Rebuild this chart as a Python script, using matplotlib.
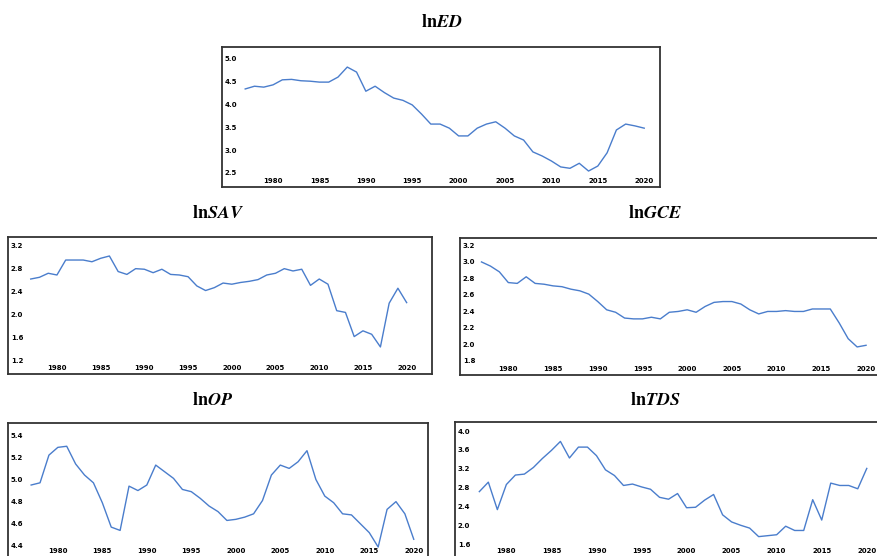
import numpy as np
import matplotlib
matplotlib.use('Agg')
import matplotlib.pyplot as plt

plt.rcParams['mathtext.fontset'] = 'stix'

# Data (1977-2020)
years = list(range(1977, 2021))

ln_ed = [4.34, 4.40, 4.38, 4.43, 4.54, 4.55, 4.52, 4.51, 4.49, 4.49,
         4.60, 4.82, 4.71, 4.29, 4.40, 4.26, 4.14, 4.09, 3.99, 3.79,
         3.57, 3.57, 3.48, 3.31, 3.31, 3.48, 3.57, 3.62, 3.48, 3.31,
         3.22, 2.96, 2.87, 2.76, 2.63, 2.60, 2.71, 2.54, 2.65, 2.94,
         3.44, 3.57, 3.53, 3.48]

ln_sav = [2.61, 2.64, 2.71, 2.68, 2.94, 2.94, 2.94, 2.91, 2.97, 3.01,
          2.74, 2.69, 2.79, 2.78, 2.72, 2.78, 2.69, 2.68, 2.65, 2.49,
          2.41, 2.46, 2.54, 2.52, 2.55, 2.57, 2.60, 2.68, 2.71, 2.79,
          2.75, 2.78, 2.50, 2.61, 2.52, 2.06, 2.03, 1.61, 1.71, 1.65,
          1.43, 2.19, 2.45, 2.20]

ln_gce = [3.00, 2.95, 2.88, 2.75, 2.74, 2.82, 2.74, 2.73, 2.71, 2.70,
          2.67, 2.65, 2.61, 2.52, 2.42, 2.39, 2.32, 2.31, 2.31, 2.33,
          2.31, 2.39, 2.40, 2.42, 2.39, 2.46, 2.51, 2.52, 2.52, 2.49,
          2.42, 2.37, 2.40, 2.40, 2.41, 2.40, 2.40, 2.43, 2.43, 2.43,
          2.26, 2.07, 1.97, 1.99]

ln_op = [4.95, 4.97, 5.22, 5.29, 5.30, 5.14, 5.04, 4.97, 4.79, 4.57,
         4.54, 4.94, 4.90, 4.95, 5.13, 5.07, 5.01, 4.91, 4.89, 4.83,
         4.76, 4.71, 4.63, 4.64, 4.66, 4.69, 4.81, 5.04, 5.13, 5.10,
         5.16, 5.26, 5.00, 4.85, 4.79, 4.69, 4.68, 4.60, 4.52, 4.39,
         4.73, 4.80, 4.69, 4.46]

ln_tds = [2.72, 2.92, 2.34, 2.87, 3.07, 3.09, 3.23, 3.42, 3.59, 3.78,
          3.43, 3.66, 3.66, 3.48, 3.18, 3.06, 2.85, 2.88, 2.82, 2.77,
          2.60, 2.56, 2.68, 2.38, 2.39, 2.54, 2.66, 2.23, 2.08, 2.01,
          1.95, 1.77, 1.79, 1.81, 1.99, 1.90, 1.90, 2.55, 2.12, 2.90,
          2.85, 2.85, 2.78, 3.21]

x_ticks = [1980, 1985, 1990, 1995, 2000, 2005, 2010, 2015, 2020]
ed_ticks = [2.5, 3.0, 3.5, 4.0, 4.5, 5.0]
sav_ticks = [1.2, 1.6, 2.0, 2.4, 2.8, 3.2]
gce_ticks = [1.8, 2.0, 2.2, 2.4, 2.6, 2.8, 3.0, 3.2]
op_ticks = [4.4, 4.6, 4.8, 5.0, 5.2, 5.4]
tds_ticks = [1.6, 2.0, 2.4, 2.8, 3.2, 3.6, 4.0]

W, H = 877, 556
fig = plt.figure(figsize=(W / 100, H / 100), dpi=100)


def panel(px, title, values, yticks, ylim, xlim, tx, ty):
    left, top, right, bottom = px
    ax = fig.add_axes([left / W, 1 - bottom / H, (right - left) / W, (bottom - top) / H])
    ax.plot(years, values, color='#4a7dcc', lw=1.0)
    ax.set_xlim(*xlim)
    ax.set_ylim(*ylim)
    ax.set_xticks(x_ticks)
    ax.set_yticks(yticks)
    ax.set_yticklabels(['%.1f' % v for v in yticks])
    ax.tick_params(length=0, labelsize=5, pad=-2)
    for lbl in ax.get_yticklabels():
        lbl.set_horizontalalignment('left')
        lbl.set_fontweight('bold')
    for lbl in ax.get_xticklabels():
        lbl.set_verticalalignment('bottom')
        lbl.set_fontweight('bold')
    for s in ax.spines.values():
        s.set_color('#333333')
        s.set_linewidth(1.3)
    fig.text(tx / W, 1 - ty / H, title, ha='center', va='center', fontsize=13)
    return ax


panel((222, 47, 660, 187), r'$\mathbf{ln}\mathbfit{ED}$', ln_ed, ed_ticks,
      (2.19, 5.26), (1974.5, 2021.7), 442, 22)
panel((8, 237, 432, 374), r'$\mathbf{ln}\mathbfit{SAV}$', ln_sav, sav_ticks,
      (0.96, 3.34), (1974.4, 2022.9), 218, 213)
panel((460, 238, 892, 375), r'$\mathbf{ln}\mathbfit{GCE}$', ln_gce, gce_ticks,
      (1.63, 3.29), (1974.6, 2022.9), 655, 213)
panel((8, 423, 428, 557), r'$\mathbf{ln}\mathbfit{OP}$', ln_op, op_ticks,
      (4.30, 5.51), (1974.4, 2021.6), 213, 400)
panel((455, 422, 892, 557), r'$\mathbf{ln}\mathbfit{TDS}$', ln_tds, tds_ticks,
      (1.34, 4.19), (1974.3, 2022.8), 655, 400)

fig.savefig('out.png', dpi=100)
